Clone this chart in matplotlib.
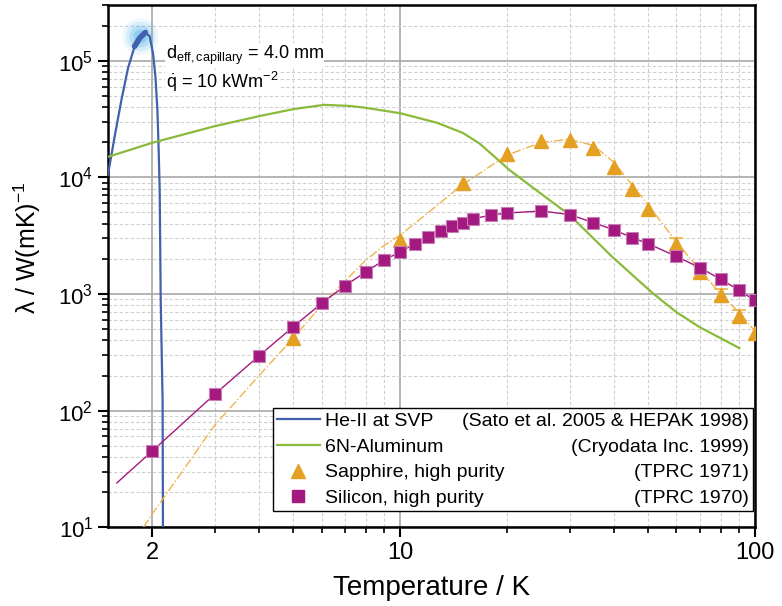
import numpy as np
import matplotlib
matplotlib.use("Agg")
import matplotlib.pyplot as plt
from matplotlib.ticker import FixedLocator, FixedFormatter, LogLocator, NullFormatter

plt.rcParams['font.family'] = ['Liberation Sans', 'DejaVu Sans']
plt.rcParams['mathtext.fontset'] = 'custom'
plt.rcParams['mathtext.rm'] = 'Liberation Sans'
plt.rcParams['mathtext.it'] = 'Liberation Sans:italic'
plt.rcParams['mathtext.bf'] = 'Liberation Sans:bold'

# He-II at SVP
he_T = [1.50, 1.567, 1.637, 1.709, 1.784, 1.844, 1.913, 1.967, 2.01, 2.042,
        2.068, 2.085, 2.099, 2.113, 2.139, 2.144]
he_k = [1.05e4, 2.24e4, 4.6e4, 8.65e4, 1.33e5, 1.57e5, 1.75e5, 1.62e5, 1.16e5, 7.3e4,
        3.8e4, 1.72e4, 7.8e3, 887, 123, 10]

# 6N aluminum
al_T = [1.5, 2.0, 3.0, 4.0, 5.0, 6.1, 7.2, 8.0, 10.0, 12.7, 15.0, 16.7, 18.2, 20.3,
        24.7, 30.0, 39.6, 51.4, 60.0, 69.7, 90.3]
al_k = [1.5e4, 1.98e4, 2.75e4, 3.35e4, 3.85e4, 4.19e4, 4.1e4, 3.95e4, 3.55e4,
        2.94e4, 2.41e4, 1.96e4, 1.56e4, 1.16e4, 7.4e3, 4.77e3, 2.08e3, 1.02e3, 700,
        521, 344]

# Sapphire, high purity (TPRC 1971)
sa_T = [5, 10, 15, 20, 25, 30, 35, 40, 45, 50, 60, 70, 80, 90, 100]
sa_k = [420, 2900, 9000, 16000, 20500, 21000, 18000, 12300, 8000, 5400,
        2700, 1550, 980, 650, 460]
sa_err_T = [60, 70, 80, 90]
sa_err_k = [2700, 1550, 980, 650]
sa_fit_T = [1.89, 2.0, 2.5, 3.0, 4.0, 5.0, 6.0, 7.0, 8.0, 9.0, 10.0, 12.0, 15.0,
            20.0, 25.0, 30.0, 35.0, 40.0, 50.0, 60.0, 70.0, 80.0, 90.0, 100.0]
sa_fit_k = [10, 13, 34, 75, 200, 420, 800, 1300, 1950, 2600, 3200, 5000, 8700,
            15500, 20000, 21200, 18800, 13500, 5800, 2800, 1600, 1000, 700, 480]

# Silicon, high purity (TPRC 1970)
si_T = [2, 3, 4, 5, 6, 7, 8, 9, 10, 11, 12, 13, 14, 15, 16, 18, 20, 25, 30,
        35, 40, 45, 50, 60, 70, 80, 90, 100]
si_k = [45, 138, 295, 525, 830, 1180, 1550, 1950, 2300, 2700, 3100, 3470, 3850,
        4100, 4400, 4750, 4950, 5150, 4800, 4100, 3550, 3050, 2700, 2100, 1680,
        1340, 1080, 880]
si_fit_T = [1.59] + si_T
si_fit_k = [24] + si_k

c_blue = '#4161AE'
c_green = '#8BBA3A'
c_orange = '#E4A022'
c_purple = '#A3197F'

fig = plt.figure(figsize=(7.82, 6.06), dpi=100)
ax = fig.add_axes([0.138, 0.130, 0.8275, 0.8615])

ax.set_xscale('log')
ax.set_yscale('log')
ax.set_xlim(1.5, 100)
ax.set_ylim(10, 3e5)

# grid
ax.grid(True, which='major', color='#A8A8A8', lw=1.2, ls='-', zorder=0)
ax.grid(True, which='minor', color='#CFCFCF', lw=0.8, ls=(0, (3, 2)), zorder=0)
ax.set_axisbelow(True)

# He-II
ax.plot(he_T, he_k, color=c_blue, lw=1.6, zorder=4)
ip = int(np.argmax(he_k))
for s, a in [(700, 0.10), (450, 0.15), (250, 0.25), (100, 0.35)]:
    ax.scatter([he_T[ip - 1]], [he_k[ip] * 0.93], s=s, color='#4FB3EA', alpha=a,
               lw=0, zorder=3)
ax.plot(he_T[ip - 2:ip + 1], he_k[ip - 2:ip + 1], color=c_blue, lw=4, zorder=4,
        solid_capstyle='round')

# Aluminum
ax.plot(al_T, al_k, color=c_green, lw=1.6, zorder=4)

# Sapphire
ax.plot(sa_fit_T, sa_fit_k, color='#F0B34A', lw=1.0, ls='-.', zorder=4)
ax.errorbar(sa_err_T, sa_err_k, yerr=[np.array(sa_err_k) * 0.11, np.array(sa_err_k) * 0.13],
            fmt='none', ecolor='#EDB349', elinewidth=1.2, capsize=5, capthick=1.2, zorder=5)
ax.plot(sa_T, sa_k, ls='none', marker='^', ms=10, color=c_orange, mec=c_orange, zorder=6)

# Silicon
ax.plot(si_fit_T, si_fit_k, color=c_purple, lw=1.0, zorder=4)
ax.plot(si_T, si_k, ls='none', marker='s', ms=8, color=c_purple, mec='#C77DB5',
        mew=0.8, zorder=6)

# ticks
ax.xaxis.set_major_locator(FixedLocator([2, 10, 100]))
ax.xaxis.set_major_formatter(FixedFormatter(['2', '10', '100']))
ax.xaxis.set_minor_locator(FixedLocator([3, 4, 5, 6, 7, 8, 9, 20, 30, 40, 50, 60, 70, 80, 90]))
ax.xaxis.set_minor_formatter(NullFormatter())
ax.yaxis.set_major_locator(LogLocator(base=10, numticks=10))
ax.yaxis.set_minor_locator(LogLocator(base=10, subs=np.arange(2, 10), numticks=20))
ax.yaxis.set_minor_formatter(NullFormatter())
ax.tick_params(which='major', direction='out', length=7, width=1.5, labelsize=16,
               top=False, right=False)
ax.tick_params(axis='x', which='major', labelsize=17)
ax.tick_params(which='minor', direction='out', length=4, width=1.2, top=False, right=False)
for sp in ax.spines.values():
    sp.set_linewidth(1.8)

ax.set_xlabel('Temperature / K', fontsize=20, labelpad=8)
ax.set_ylabel('λ / W(mK)$^{-1}$', fontsize=18)
ax.yaxis.set_label_coords(-0.10, 0.536)

# annotation
ax.text(0.089, 0.904, r'd$_{\mathrm{eff,capillary}}$ = 4.0 mm', transform=ax.transAxes,
        fontsize=13, va='center', ha='left',
        bbox=dict(facecolor='white', edgecolor='none', pad=0.5), zorder=7)
ax.text(0.089, 0.852, r'$\dot{\mathrm{q}}$ = 10 kWm$^{-2}$', transform=ax.transAxes,
        fontsize=13, va='center', ha='left',
        bbox=dict(facecolor='white', edgecolor='none', pad=0.5), zorder=7)

# legend
h1, = ax.plot([], [], color=c_blue, lw=1.6)
h2, = ax.plot([], [], color=c_green, lw=1.6)
h3, = ax.plot([], [], ls='none', marker='^', ms=10, color=c_orange)
h4, = ax.plot([], [], ls='none', marker='s', ms=8, color=c_purple)
names = ['He-II at SVP', '6N-Aluminum', 'Sapphire, high purity', 'Silicon, high purity']
refs = ['(Sato et al. 2005 & HEPAK 1998)', '(Cryodata Inc. 1999)', '(TPRC 1971)', '(TPRC 1970)']
leg = ax.legend([h1, h2, h3, h4], names, loc='lower left',
                bbox_to_anchor=(0.255, 0.031, 0.742, 0.203), mode='expand',
                borderaxespad=0, fontsize=14, frameon=True, fancybox=False,
                edgecolor='black', framealpha=1, handlelength=2.2, handletextpad=0.3,
                labelspacing=0.42, borderpad=0.2)
leg.get_frame().set_linewidth(1.0)
leg.set_zorder(10)

fig.canvas.draw()
r = fig.canvas.get_renderer()
fb = leg.get_frame().get_window_extent(r)
for t, ref in zip(leg.get_texts(), refs):
    tb = t.get_window_extent(r)
    fig.text((fb.x1 - 4) / fig.bbox.width, (tb.y0 + tb.y1) / 2 / fig.bbox.height, ref,
             ha='right', va='center', fontsize=14, zorder=11)

fig.savefig('out.png', dpi=100)
